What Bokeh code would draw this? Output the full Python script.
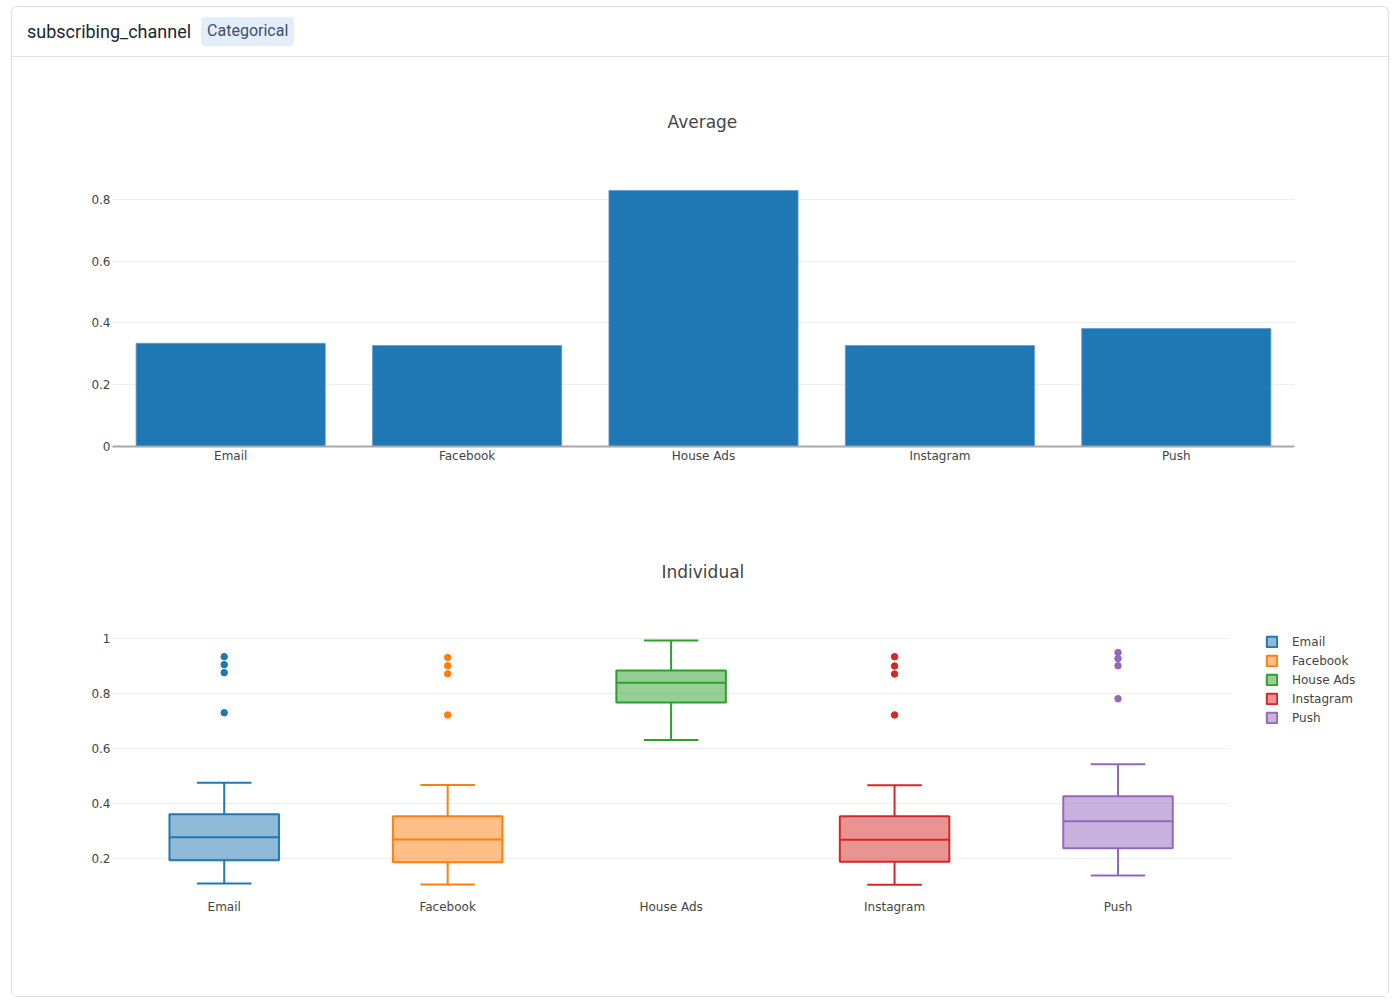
from bokeh.plotting import figure
from bokeh.models import (ColumnDataSource, FactorRange, Range1d, Legend, LegendItem,
                          Div, FixedTicker)
from bokeh.transform import dodge
from bokeh.embed import file_html
from bokeh.resources import INLINE

# ---------------- data ----------------
categories = ["Email", "Facebook", "House Ads", "Instagram", "Push"]
avg_values = [0.334, 0.327, 0.829, 0.327, 0.382]

box_lower = [0.109, 0.105, 0.631, 0.104, 0.138]
box_q1 = [0.193, 0.186, 0.767, 0.188, 0.237]
box_median = [0.277, 0.269, 0.839, 0.268, 0.335]
box_q3 = [0.361, 0.353, 0.884, 0.353, 0.426]
box_upper = [0.475, 0.467, 0.993, 0.466, 0.543]

outlier_cat = ["Email", "Email", "Email", "Email",
               "Facebook", "Facebook", "Facebook", "Facebook",
               "Instagram", "Instagram", "Instagram", "Instagram",
               "Push", "Push", "Push", "Push"]
outlier_val = [0.934, 0.905, 0.876, 0.730,
               0.931, 0.901, 0.872, 0.722,
               0.934, 0.900, 0.871, 0.722,
               0.949, 0.927, 0.901, 0.781]

colors = ["#1f77b4", "#ff7f0e", "#2ca02c", "#d62728", "#9467bd"]

bar_ticks = [0, 0.2, 0.4, 0.6, 0.8]
bar_tick_labels = ["0", "0.2", "0.4", "0.6", "0.8"]
box_ticks = [0.2, 0.4, 0.6, 0.8, 1.0]
box_tick_labels = ["0.2", "0.4", "0.6", "0.8", "1"]

FONT = "DejaVu Sans"
TXT = "#444444"
GRID = "#eeeeee"
CARD = "1px solid #dcdcdc"


def base_style(p, ticks, labels):
    p.outline_line_color = None
    p.background_fill_color = "white"
    p.border_fill_color = "white"
    p.xgrid.grid_line_color = None
    p.ygrid.grid_line_color = GRID
    p.ygrid.grid_line_width = 1
    p.yaxis.ticker = FixedTicker(ticks=ticks)
    p.yaxis.major_label_overrides = {t: l for t, l in zip(ticks, labels)}
    for ax in (p.xaxis, p.yaxis):
        ax.major_tick_line_color = None
        ax.minor_tick_line_color = None
        ax.major_tick_out = 0
        ax.major_tick_in = 0
        ax.minor_tick_out = 0
        ax.minor_tick_in = 0
        ax.major_label_text_font = FONT
        ax.major_label_text_font_size = "12px"
        ax.major_label_text_color = TXT
    p.yaxis.axis_line_color = None
    p.yaxis.major_label_standoff = 2
    p.title.text_font = FONT
    p.title.text_font_size = "17px"
    p.title.text_font_style = "normal"
    p.title.text_color = TXT
    p.title.align = "left"


# ---------------- header ----------------
header = Div(
    text=('<div style="display:flex;align-items:center;height:50px;width:1376px;'
          'box-sizing:border-box;padding-left:15px;border-bottom:1px solid #dee2e6;'
          'font-family:Roboto,sans-serif;">'
          '<span style="font-size:18px;color:#212529;">subscribing_channel</span>'
          '<span style="margin-left:10px;background:#e4edfb;color:#3f4d6e;font-size:16px;'
          'padding:3px 6px 4px 6px;border-radius:4px;">Categorical</span></div>'),
    width=1376, height=50, margin=0,
    styles={"box-sizing": "content-box", "margin-left": "11px", "margin-top": "6px",
            "border-top": CARD, "border-left": CARD, "border-right": CARD,
            "border-radius": "6px 6px 0 0"},
)

# ---------------- average bars ----------------
p1 = figure(x_range=FactorRange(*categories), y_range=Range1d(0, 0.871),
            width=1376, height=450, output_backend="svg", toolbar_location=None,
            min_border_left=100, min_border_right=96, min_border_top=120,
            min_border_bottom=61, title="Average",
            styles={"box-sizing": "content-box", "margin-left": "11px",
                    "border-left": CARD, "border-right": CARD})
base_style(p1, bar_ticks, bar_tick_labels)
p1.title.standoff = 92
p1.title.offset = 555
bar_src = ColumnDataSource(dict(cat=categories, val=avg_values))
p1.vbar(x="cat", top="val", width=0.8, source=bar_src,
        fill_color="#1f77b4", line_color="#5b9bd0", line_width=0.8)
p1.xaxis.axis_line_color = "#a8a8a8"
p1.xaxis.axis_line_width = 2
p1.xaxis.major_label_standoff = 2

# ---------------- individual boxes ----------------
positions = list(range(len(categories)))
x_start = -0.5
x_end = x_start + 5.7195   # leaves room on the right for the legend

p2 = figure(x_range=Range1d(x_start, x_end), y_range=Range1d(0.0795, 1.0475),
            width=1376, height=489, output_backend="svg", toolbar_location=None,
            min_border_left=100, min_border_right=0, min_border_top=118,
            min_border_bottom=106, title="Individual",
            styles={"box-sizing": "content-box", "margin-left": "11px",
                    "border-left": CARD, "border-right": CARD,
                    "border-bottom": CARD, "border-radius": "0 0 6px 6px"})
base_style(p2, box_ticks, box_tick_labels)
p2.ygrid.grid_line_color = None
p2.title.standoff = 88
p2.title.offset = 549
p2.xaxis.axis_line_color = None
p2.xaxis.major_label_standoff = 8
p2.xaxis.ticker = FixedTicker(ticks=positions)
p2.xaxis.major_label_overrides = {i: c for i, c in zip(positions, categories)}

# horizontal grid lines limited to the box area
p2.segment(x0=x_start, x1=len(categories) - 0.5, y0=box_ticks, y1=box_ticks,
           line_color=GRID, line_width=1)

box_src = ColumnDataSource(dict(x=positions, cat=categories, lower=box_lower, q1=box_q1,
                                med=box_median, q3=box_q3, upper=box_upper,
                                color=colors))
# whiskers
p2.segment(x0="x", x1="x", y0="q3", y1="upper", source=box_src,
           line_color="color", line_width=2)
p2.segment(x0="x", x1="x", y0="lower", y1="q1", source=box_src,
           line_color="color", line_width=2)
p2.segment(x0=dodge("x", -0.122), x1=dodge("x", 0.122),
           y0="upper", y1="upper", source=box_src, line_color="color", line_width=2)
p2.segment(x0=dodge("x", -0.122), x1=dodge("x", 0.122),
           y0="lower", y1="lower", source=box_src, line_color="color", line_width=2)
# boxes
boxes = p2.vbar(x="x", top="q3", bottom="q1", width=0.49, source=box_src,
                fill_color="color", fill_alpha=0.5, line_color="color", line_width=2)
# medians
p2.segment(x0=dodge("x", -0.245), x1=dodge("x", 0.245),
           y0="med", y1="med", source=box_src, line_color="color", line_width=2)
# outliers
out_x = [categories.index(c) for c in outlier_cat]
out_colors = [colors[categories.index(c)] for c in outlier_cat]
out_src = ColumnDataSource(dict(x=out_x, val=outlier_val, color=out_colors))
p2.scatter(x="x", y="val", source=out_src, size=6.5, fill_color="color",
           line_color="color")

legend = Legend(items=[LegendItem(label=c, renderers=[boxes], index=i)
                       for i, c in enumerate(categories)],
                location=(1153, 166.5), margin=0, padding=0, spacing=5,
                glyph_width=13, glyph_height=13, label_standoff=14,
                label_text_font=FONT, label_text_font_size="12px",
                label_text_color=TXT, label_height=13,
                background_fill_alpha=0, border_line_color=None)
p2.add_layout(legend, "center")

open("out.html", "w").write(file_html([header, p1, p2], INLINE))
